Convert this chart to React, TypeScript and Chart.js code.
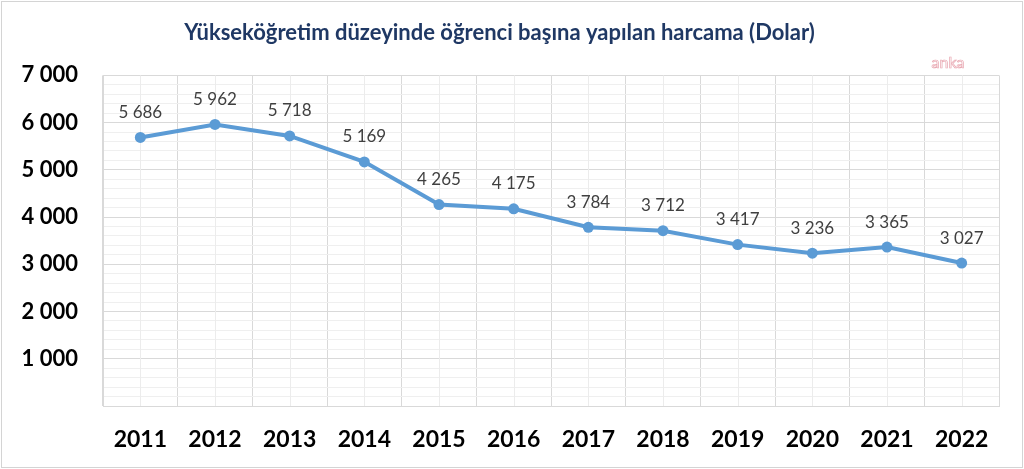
import React, { useEffect, useRef } from "react";
import { Chart, registerables } from "chart.js";

Chart.register(...registerables);

const title = "Yükseköğretim düzeyinde öğrenci başına yapılan harcama (Dolar)";
const years = ["2011", "2012", "2013", "2014", "2015", "2016", "2017", "2018", "2019", "2020", "2021", "2022"];
const spending = [5686, 5962, 5718, 5169, 4265, 4175, 3784, 3712, 3417, 3236, 3365, 3027];
const watermark = "anka";

const fmt = (v: number) => {
  const s = String(Math.round(v));
  return s.replace(/\B(?=(\d{3})+(?!\d))/g, " ");
};

const FONT = "Lato, 'Open Sans', sans-serif";

export default function App() {
  const ref = useRef<HTMLCanvasElement | null>(null);

  useEffect(() => {
    document.body.style.margin = "0";
    const canvas = ref.current!;
    const minorX = {
      id: "minorX",
      beforeDatasetsDraw(chart: any) {
        const { ctx, chartArea, scales } = chart;
        ctx.save();
        ctx.strokeStyle = "#ececec";
        ctx.lineWidth = 1;
        years.forEach((_, i) => {
          const x = Math.round(scales.x.getPixelForValue(i)) + 0.5;
          ctx.beginPath();
          ctx.moveTo(x, chartArea.top);
          ctx.lineTo(x, chartArea.bottom);
          ctx.stroke();
        });
        ctx.restore();
      },
    };
    const labels = {
      id: "valueLabels",
      afterDatasetsDraw(chart: any) {
        const { ctx } = chart;
        const meta = chart.getDatasetMeta(0);
        ctx.save();
        ctx.font = `17px ${FONT}`;
        ctx.fillStyle = "#404040";
        ctx.textAlign = "center";
        ctx.textBaseline = "middle";
        meta.data.forEach((pt: any, i: number) => {
          ctx.fillText(fmt(spending[i]), pt.x, pt.y - 25);
        });
        ctx.font = `16px ${FONT}`;
        ctx.strokeStyle = "#e8a6b0";
        ctx.lineWidth = 0.7;
        ctx.strokeText(watermark, 948, 63);
        ctx.restore();
      },
    };

    const chart = new Chart(canvas, {
      type: "line",
      data: {
        labels: years,
        datasets: [
          {
            data: spending,
            borderColor: "#5b9bd5",
            backgroundColor: "#5b9bd5",
            borderWidth: 4,
            pointRadius: 5.5,
            pointBorderWidth: 0,
            pointHoverRadius: 5.5,
            pointBackgroundColor: "#5b9bd5",
            pointBorderColor: "#5b9bd5",
            tension: 0,
          },
        ],
      },
      options: {
        animation: false,
        responsive: false,
        maintainAspectRatio: false,
        layout: { padding: { left: 0, right: 25, top: 0, bottom: 0 } },
        plugins: {
          legend: { display: false },
          tooltip: { enabled: false },
          title: {
            display: true,
            text: title,
            color: "#1f3864",
            font: { family: FONT, size: 22, weight: "bold" },
            padding: { top: 20, bottom: 29 },
          },
        },
        scales: {
          x: {
            type: "category",
            offset: true,
            grid: { offset: true, color: "#d9d9d9", drawTicks: false },
            border: { color: "#d9d9d9" },
            ticks: {
              color: "#000",
              font: { family: FONT, size: 23, weight: "bold" },
              padding: 20,
              maxRotation: 0,
            },
            afterFit(scale: any) {
              scale.height = 63;
            },
          },
          y: {
            min: 0,
            max: 7000,
            grid: {
              color: (c: any) => (c.tick && c.tick.value % 1000 === 0 ? "#d9d9d9" : "#efefef"),
              drawTicks: false,
            },
            border: { color: "#d9d9d9" },
            ticks: {
              stepSize: 200,
              autoSkip: false,
              color: "#000",
              font: { family: FONT, size: 22, weight: "bold" },
              padding: 25,
              callback: (v: any) => (v % 1000 === 0 && v > 0 ? fmt(v) : ""),
            },
            afterFit(scale: any) {
              scale.width = 103;
            },
          },
        },
      },
      plugins: [minorX, labels],
    });
    return () => chart.destroy();
  }, []);

  return (
    <div
      style={{
        position: "fixed",
        left: 0,
        top: 0,
        width: 1024,
        height: 469,
        background: "#fff",
      }}
    >
      <canvas ref={ref} width={1024} height={469} style={{ display: "block" }} />
      <div
        style={{
          position: "absolute",
          left: 1,
          top: 1,
          width: 1020,
          height: 465,
          border: "1px solid #d4d4d4",
          pointerEvents: "none",
        }}
      />
    </div>
  );
}
